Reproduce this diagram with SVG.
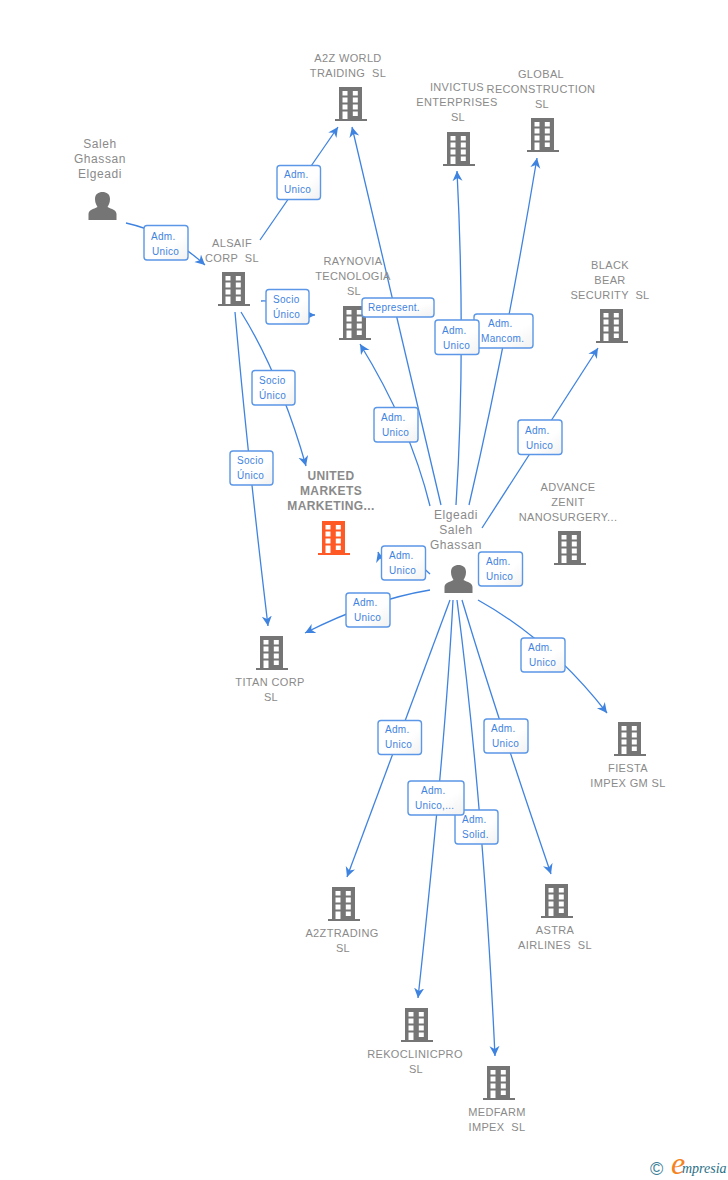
<svg xmlns="http://www.w3.org/2000/svg" xmlns:xlink="http://www.w3.org/1999/xlink" width="728" height="1180" viewBox="0 0 728 1180">
<style>
text{font-family:"Liberation Sans",Arial,sans-serif;white-space:pre}
.n{font-size:11px;fill:#8a8a8a;text-anchor:middle;letter-spacing:.35px}
.p{font-size:12px;fill:#8a8a8a;text-anchor:middle;letter-spacing:.6px}
.b{font-size:12px;font-weight:bold;fill:#8a8a8a;text-anchor:middle;letter-spacing:.4px}
.c{fill:none;stroke:#3f83e0;stroke-width:1.3;marker-end:url(#a)}
.l rect{fill:url(#g);stroke:#5b97e6;stroke-width:1.4}
.l text{font-size:10px;fill:#3f83e0;letter-spacing:.3px}
</style>
<defs>
<linearGradient id="g" x1="0" y1="0" x2="1" y2="1"><stop offset="0" stop-color="#fff"/><stop offset=".6" stop-color="#fff"/><stop offset="1" stop-color="#f1f1f1"/></linearGradient>
<marker id="a" markerUnits="userSpaceOnUse" markerWidth="12" markerHeight="12" refX="10" refY="5" orient="auto"><path d="M0,0 L10,5 L0,10 L3,5 Z" fill="#3f83e0"/></marker>
<path id="bld" fill-rule="evenodd" d="M-12,-34H11V-2H16V0H-16V-2H-12ZM-8.500,-30V-25.500H-3.500V-30ZM1.800,-30V-25.500H6.800V-30ZM-8.500,-23.500V-18.500H-3.500V-23.500ZM1.800,-23.500V-18.500H6.800V-23.500ZM-8.500,-16.500V-11.500H-3.500V-16.500ZM1.800,-16.500V-11.500H6.800V-16.500ZM-8.500,-9.500V-2H-3.500V-9.500ZM1.800,-9.500V-5H6.800V-9.500Z"/>
<path id="per" d="M-14,0V-6C-14,-10 -9,-11 -5,-13C-6,-15 -7.500,-17 -7.500,-21C-7.500,-26 -4,-28 0,-28C4,-28 7.500,-26 7.500,-21C7.500,-17 6,-15 5,-13C9,-11 14,-10 14,-6V0Z"/>
</defs>
<g id="connectors">
<path class="c" d="M126,223Q170,233 205,265"/>
<path class="c" d="M260,240L338,127"/>
<path class="c" d="M261,301C290,300 295,315 315,315"/>
<path class="c" d="M241,312Q280,375 306,466"/>
<path class="c" d="M235,312Q247,450 268,626"/>
<path class="c" d="M441,505L352,127"/>
<path class="c" d="M430,506Q410,425 360,344"/>
<path class="c" d="M456,505Q466,350 457,171"/>
<path class="c" d="M469,505Q505,350 537,158"/>
<path class="c" d="M482,528L598,348"/>
<path class="c" d="M430,574C410,552 385,575 378,552"/>
<path class="c" d="M430,590Q370,600 305,633"/>
<path class="c" d="M450,600L347,877"/>
<path class="c" d="M453,600Q445,750 418,998"/>
<path class="c" d="M457,600Q483,800 495,1056"/>
<path class="c" d="M462,600Q495,710 551,874"/>
<path class="c" d="M478,600Q550,640 607,713"/>
</g>
<g id="n-saleh" fill="#757575"><text class="p" x="100" y="148">Saleh</text><text class="p" x="100" y="163">Ghassan</text><text class="p" x="100" y="178">Elgeadi</text><use xlink:href="#per" href="#per" x="102.500" y="220"/></g>
<g id="n-elgeadi" fill="#757575"><text class="p" x="456" y="519">Elgeadi</text><text class="p" x="456" y="534">Saleh</text><text class="p" x="456" y="549">Ghassan</text><use xlink:href="#per" href="#per" x="458.500" y="593"/></g>
<g id="n-a2zworld" fill="#757575"><text class="n" x="348" y="62">A2Z WORLD</text><text class="n" x="348" y="77">TRAIDING  SL</text><use href="#bld" x="351" y="121"/></g>
<g id="n-invictus" fill="#757575"><text class="n" x="457" y="91">INVICTUS</text><text class="n" x="457" y="106">ENTERPRISES</text><text class="n" x="458" y="121">SL</text><use href="#bld" x="459" y="166"/></g>
<g id="n-global" fill="#757575"><text class="n" x="541" y="78">GLOBAL</text><text class="n" x="541" y="93">RECONSTRUCTION</text><text class="n" x="542" y="108">SL</text><use href="#bld" x="543" y="152"/></g>
<g id="n-blackbear" fill="#757575"><text class="n" x="610" y="269">BLACK</text><text class="n" x="610" y="284">BEAR</text><text class="n" x="610" y="299">SECURITY  SL</text><use href="#bld" x="612" y="343"/></g>
<g id="n-alsaif" fill="#757575"><text class="n" x="232" y="247">ALSAIF</text><text class="n" x="232" y="262">CORP  SL</text><use href="#bld" x="234" y="306"/></g>
<g id="n-raynovia" fill="#757575"><text class="n" x="353" y="265">RAYNOVIA</text><text class="n" x="353" y="280">TECNOLOGIA</text><text class="n" x="354" y="295">SL</text><use href="#bld" x="355" y="340"/></g>
<g id="n-advance" fill="#757575"><text class="n" x="568" y="491">ADVANCE</text><text class="n" x="568" y="506">ZENIT</text><text class="n" x="568" y="521">NANOSURGERY...</text><use href="#bld" x="570" y="565"/></g>
<g id="n-united" fill="#ff5a26"><text class="b" x="331" y="480">UNITED</text><text class="b" x="331" y="495">MARKETS</text><text class="b" x="331" y="510">MARKETING...</text><use href="#bld" x="334" y="555"/></g>
<g id="n-titan" fill="#757575"><use href="#bld" x="272" y="670"/><text class="n" x="270" y="686">TITAN CORP</text><text class="n" x="271" y="701">SL</text></g>
<g id="n-fiesta" fill="#757575"><use href="#bld" x="630" y="756"/><text class="n" x="628" y="772">FIESTA</text><text class="n" x="628" y="787">IMPEX GM SL</text></g>
<g id="n-a2ztrading" fill="#757575"><use href="#bld" x="344" y="921"/><text class="n" x="342" y="937">A2ZTRADING</text><text class="n" x="343" y="952">SL</text></g>
<g id="n-astra" fill="#757575"><use href="#bld" x="557" y="918"/><text class="n" x="555" y="934">ASTRA</text><text class="n" x="555" y="949">AIRLINES  SL</text></g>
<g id="n-reko" fill="#757575"><use href="#bld" x="417" y="1042"/><text class="n" x="415" y="1058">REKOCLINICPRO</text><text class="n" x="416" y="1073">SL</text></g>
<g id="n-medfarm" fill="#757575"><use href="#bld" x="499" y="1100"/><text class="n" x="497" y="1116">MEDFARM</text><text class="n" x="497" y="1131">IMPEX  SL</text></g>
<g id="edge-labels">
<g class="l"><rect x="144" y="225.500" width="44" height="34.500" rx="3"/><text x="151" y="240">Adm.</text><text x="152" y="255">Unico</text></g>
<g class="l"><rect x="277" y="165.500" width="43.500" height="34" rx="3"/><text x="284" y="178">Adm.</text><text x="284" y="193">Unico</text></g>
<g class="l"><rect x="266" y="289.500" width="43" height="34.500" rx="3"/><text x="273" y="303">Socio</text><text x="273" y="318">Único</text></g>
<g class="l"><rect x="362" y="298" width="72" height="19" rx="3"/><text x="368" y="311">Represent.</text></g>
<g class="l"><rect x="374" y="407.500" width="44" height="34.500" rx="3"/><text x="381" y="421">Adm.</text><text x="382" y="436">Unico</text></g>
<g class="l"><rect x="474" y="314" width="59" height="34" rx="3"/><text x="488" y="327">Adm.</text><text x="481" y="342">Mancom.</text></g>
<g class="l"><rect x="435" y="320" width="44" height="34.500" rx="3"/><text x="442" y="334">Adm.</text><text x="443" y="349">Unico</text></g>
<g class="l"><rect x="518" y="420" width="44" height="34.500" rx="3"/><text x="525" y="434">Adm.</text><text x="526" y="449">Unico</text></g>
<g class="l"><rect x="252" y="370.500" width="43" height="34.500" rx="3"/><text x="259" y="384">Socio</text><text x="259" y="399">Único</text></g>
<g class="l"><rect x="230" y="451" width="43" height="34" rx="3"/><text x="237" y="464">Socio</text><text x="237" y="479">Único</text></g>
<g class="l"><rect x="381.500" y="546" width="44" height="34" rx="3"/><text x="389" y="559">Adm.</text><text x="389" y="574">Unico</text></g>
<g class="l"><rect x="478.500" y="552" width="44" height="34" rx="3"/><text x="486" y="565">Adm.</text><text x="486" y="580">Unico</text></g>
<g class="l"><rect x="346" y="593" width="44" height="34" rx="3"/><text x="353" y="606">Adm.</text><text x="354" y="621">Unico</text></g>
<g class="l"><rect x="521" y="638" width="44" height="34" rx="3"/><text x="528" y="651">Adm.</text><text x="529" y="666">Unico</text></g>
<g class="l"><rect x="378" y="720.500" width="43.500" height="34" rx="3"/><text x="385" y="733">Adm.</text><text x="385" y="748">Unico</text></g>
<g class="l"><rect x="484" y="719" width="44" height="34" rx="3"/><text x="491" y="732">Adm.</text><text x="492" y="747">Unico</text></g>
<g class="l"><rect x="455" y="810" width="43" height="34" rx="3"/><text x="462" y="823">Adm.</text><text x="462" y="838">Solid.</text></g>
<g class="l"><rect x="408" y="781" width="56" height="34" rx="3"/><text x="421" y="794">Adm.</text><text x="415" y="809">Unico,...</text></g>
</g>
<g id="logo"><text x="650" y="1175" font-size="18" fill="#3d7f99">©</text><text x="671" y="1174" font-size="32" font-style="italic" fill="#f5831f" style="font-family:'Liberation Serif',serif">e</text><text x="682" y="1173" font-size="14" font-style="italic" fill="#2a6f86" style="font-family:'Liberation Serif',serif">mpresia</text></g>
</svg>
